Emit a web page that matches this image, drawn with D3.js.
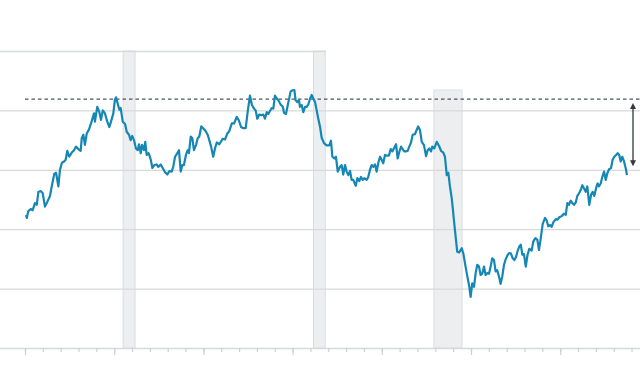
<!DOCTYPE html>
<html>
<head>
<meta charset="utf-8">
<script src="https://cdn.jsdelivr.net/npm/d3@7"></script>
<style>
  body { margin: 0; background: #fff; }
  svg { display: block; }
</style>
</head>
<body>
<svg width="640" height="375"></svg>
<script>
// monthly series (decimal years)
const dates = [
  1985.06,1985.10,1985.18,1985.32,1985.43,1985.56,1985.66,1985.75,1985.88,1985.99,
  1986.12,1986.25,1986.40,1986.53,1986.64,1986.74,1986.87,1986.96,1987.07,1987.19,
  1987.28,1987.37,1987.48,1987.62,1987.75,1987.86,1987.99,1988.12,1988.18,1988.27,
  1988.36,1988.46,1988.59,1988.70,1988.79,1988.87,1988.92,1989.05,1989.16,1989.26,
  1989.36,1989.48,1989.61,1989.73,1989.82,1989.95,1990.04,1990.10,1990.20,1990.29,
  1990.36,1990.48,1990.61,1990.70,1990.83,1990.92,1991.01,1991.11,1991.22,1991.32,
  1991.39,1991.49,1991.56,1991.67,1991.74,1991.82,1991.93,1992.05,1992.14,1992.25,
  1992.38,1992.47,1992.61,1992.72,1992.85,1992.98,1993.09,1993.22,1993.31,1993.41,
  1993.54,1993.63,1993.73,1993.82,1993.91,1994.02,1994.12,1994.19,1994.29,1994.38,
  1994.47,1994.59,1994.68,1994.77,1994.88,1994.99,1995.13,1995.24,1995.33,1995.43,
  1995.55,1995.65,1995.75,1995.89,1996.08,1996.21,1996.34,1996.45,1996.59,1996.72,
  1996.87,1996.99,1997.11,1997.24,1997.37,1997.48,1997.61,1997.72,1997.84,1997.93,
  1998.02,1998.13,1998.25,1998.36,1998.45,1998.55,1998.64,1998.73,1998.83,1998.92,
  1999.01,1999.11,1999.20,1999.33,1999.45,1999.52,1999.63,1999.73,1999.80,1999.89,
  2000.01,2000.10,2000.17,2000.26,2000.36,2000.41,2000.51,2000.60,2000.70,2000.79,
  2000.88,2000.98,2001.07,2001.16,2001.26,2001.35,2001.44,2001.54,2001.63,2001.76,
  2001.91,2002.06,2002.15,2002.23,2002.34,2002.43,2002.53,2002.66,2002.75,2002.84,
  2002.94,2003.03,2003.12,2003.22,2003.31,2003.40,2003.54,2003.63,2003.74,2003.83,
  2003.93,2004.02,2004.15,2004.24,2004.34,2004.43,2004.52,2004.62,2004.71,2004.80,
  2004.90,2004.99,2005.08,2005.18,2005.27,2005.40,2005.50,2005.59,2005.68,2005.80,
  2005.89,2005.98,2006.08,2006.17,2006.26,2006.36,2006.45,2006.54,2006.64,2006.73,
  2006.86,2006.95,2007.04,2007.14,2007.24,2007.36,2007.48,2007.57,2007.66,2007.76,
  2007.83,2007.94,2008.08,2008.21,2008.32,2008.45,2008.54,2008.64,2008.73,2008.82,
  2008.92,2008.97,2009.06,2009.14,2009.23,2009.34,2009.48,2009.57,2009.66,2009.76,
  2009.85,2009.90,2009.98,2010.07,2010.17,2010.26,2010.35,2010.45,2010.54,2010.63,
  2010.73,2010.82,2010.91,2011.01,2011.10,2011.19,2011.29,2011.38,2011.47,2011.57,
  2011.66,2011.75,2011.85,2011.94,2012.06,2012.15,2012.24,2012.34,2012.43,2012.52,
  2012.62,2012.71,2012.79,2012.88,2012.97,2013.07,2013.17,2013.27,2013.40,2013.49,
  2013.61,2013.72,2013.81,2013.92,2014.02,2014.15,2014.24,2014.33,2014.43,2014.52,
  2014.62,2014.75,2014.84,2014.95,2015.08,2015.21,2015.31,2015.40,2015.49,2015.59,
  2015.68,2015.77,2015.87,2015.96,2016.05,2016.15,2016.24,2016.33,2016.43,2016.52,
  2016.63,2016.73,2016.82,2016.91,2017.01,2017.10,2017.17,2017.27,2017.36,2017.46,
  2017.55,2017.64,2017.74,2017.85,2017.94,2018.03,2018.13,2018.22,2018.31,2018.39,
  2018.48,2018.58,2018.69,2018.74
];

const values = [
  22.4,21.9,23.0,23.4,23.2,24.4,24.1,26.3,26.4,26.1,
  23.8,24.6,25.6,27.7,29.3,29.5,27.2,30.0,31.2,31.4,
  31.7,33.2,32.2,32.9,33.3,33.9,33.5,33.2,35.3,35.9,
  34.2,36.1,36.8,37.8,38.7,39.5,38.1,40.6,39.8,38.4,
  40.0,39.5,38.1,37.2,38.1,39.5,41.8,42.2,41.1,40.1,
  40.4,38.1,37.7,36.4,35.9,35.0,35.7,35.0,33.6,33.3,
  34.3,32.8,34.2,33.3,34.7,32.5,32.8,31.7,30.3,30.8,
  30.9,30.5,30.9,30.3,29.6,29.2,29.8,29.7,30.5,32.2,
  32.8,33.3,29.7,30.8,30.8,32.5,33.3,32.8,35.6,35.3,
  33.3,34.2,35.3,35.6,37.3,37.0,36.5,35.9,35.0,33.9,
  32.2,33.6,34.6,34.3,35.2,35.1,36.1,36.5,37.8,37.8,
  38.9,38.3,37.2,37.0,37.0,39.7,42.5,40.9,40.3,40.0,
  38.6,39.3,39.2,39.3,38.6,39.7,39.4,39.9,40.4,40.3,
  42.5,42.0,41.7,41.0,40.6,39.6,39.4,40.9,41.9,43.2,
  43.4,43.4,41.7,41.4,41.7,40.6,40.9,39.7,40.6,40.6,
  41.0,42.0,42.6,42.0,41.4,40.0,38.6,37.2,35.4,34.5,
  34.1,34.1,34.9,32.2,31.9,32.2,29.7,30.5,30.8,29.2,
  30.8,29.7,29.1,29.8,28.3,28.3,27.3,28.6,28.1,28.8,
  28.3,28.6,28.3,28.8,30.0,30.8,30.5,30.9,29.7,31.1,
  32.2,31.7,31.1,32.5,32.4,32.4,33.5,33.1,33.6,34.3,
  31.9,33.0,33.9,33.5,33.1,33.1,33.2,33.9,34.6,35.9,
  36.0,36.7,37.3,36.7,34.7,34.2,32.3,33.3,33.6,33.1,
  33.9,33.6,34.7,34.0,33.2,32.9,32.2,29.1,29.5,27.2,
  25.2,23.8,21.0,18.7,16.2,16.1,16.8,15.9,14.3,12.6,
  11.2,10.4,8.6,10.9,10.3,12.6,14.0,13.7,12.3,12.5,
  13.7,12.3,12.6,12.5,13.7,15.1,14.8,12.9,13.1,12.0,
  10.8,12.0,14.0,14.9,15.7,16.0,15.9,15.1,14.8,15.3,
  16.4,17.1,17.4,15.7,15.8,13.7,15.7,16.7,16.4,17.9,
  18.5,18.2,16.5,18.7,20.9,21.9,21.5,20.5,20.7,20.4,
  21.2,21.7,21.6,22.0,22.2,22.6,22.4,24.4,24.1,24.8,
  24.4,24.1,24.5,25.6,26.0,26.6,27.4,26.9,26.3,27.2,
  24.1,25.8,26.3,25.6,26.9,27.7,27.2,27.7,28.8,29.7,
  28.3,29.4,30.1,30.3,31.7,32.2,32.5,32.8,32.5,31.4,
  32.2,31.4,30.0,29.1
];

// recession periods (start, end)
const recessionStart = [1990.50, 2001.17, 2007.92];
const recessionEnd   = [1991.17, 2001.83, 2009.50];

const gridValues = [0, 10, 20, 30, 40, 50];
const tickYears = d3.range(1985, 2020);
const majorYears = [1985, 1990, 1995, 2000, 2005, 2010, 2015];

const peakLevel = 41.9;     // dashed reference
const gapBottom = 30.6;     // arrow end

const svg = d3.select('svg');
const width = +svg.attr('width');
const height = +svg.attr('height');

const x = d3.scaleLinear()
    .domain([1985, 2020])
    .range([25, 649.4]);

const y = d3.scaleLinear()
    .domain([0, 50])
    .range([348, 51]);

//----------------------------------------- RECESSIONS -----------------------------------------//
svg.append('g')
    .selectAll('rect')
    .data(recessionStart)
    .join('rect')
    .attr('x', (d, i) => x(d))
    .attr('width', (d, i) => x(recessionEnd[i]) - x(d))
    .attr('y', y(50))
    .attr('height', y(0) - y(50))
    .attr('fill', '#eceef0')
    .attr('stroke', '#dadddf')
    .attr('stroke-width', 1);

//----------------------------------------- GRID -----------------------------------------//
const grid = svg.append('g')
    .call(d3.axisRight(y).tickValues(gridValues).tickSize(width).tickFormat(''));
grid.select('.domain').remove();
grid.selectAll('line')
    .attr('stroke', '#d7d9da')
    .attr('stroke-width', 1.3);

// white label area top right (covers grid top)
svg.append('rect')
    .attr('x', x(recessionEnd[1]) + 1)
    .attr('y', 0)
    .attr('width', width)
    .attr('height', y(peakLevel) - 9.5)
    .attr('fill', '#fff');

// recession band top edge in the label area
svg.append('line')
    .attr('x1', x(recessionStart[2]))
    .attr('x2', x(recessionEnd[2]))
    .attr('y1', y(peakLevel) - 9)
    .attr('y2', y(peakLevel) - 9)
    .attr('stroke', '#dadddf');
svg.append('rect')
    .attr('x', x(recessionStart[2]) + 0.5)
    .attr('width', x(recessionEnd[2]) - x(recessionStart[2]) - 1)
    .attr('y', y(peakLevel) - 8.5)
    .attr('height', 8)
    .attr('fill', '#eceef0');

//----------------------------------------- X AXIS TICKS -----------------------------------------//
const minorAxis = svg.append('g')
    .attr('transform', `translate(0,${y(0)})`)
    .call(d3.axisBottom(x).tickValues(tickYears).tickSize(4).tickFormat(''));
const majorAxis = svg.append('g')
    .attr('transform', `translate(0,${y(0)})`)
    .call(d3.axisBottom(x).tickValues(majorYears).tickSize(7).tickFormat(''));
[minorAxis, majorAxis].forEach(a => {
    a.select('.domain').remove();
    a.selectAll('line').attr('stroke', '#cdd0d2').attr('stroke-width', 1.2);
});

//----------------------------------------- PEAK LINE -----------------------------------------//
svg.append('line')
    .attr('x1', x(1985))
    .attr('x2', width)
    .attr('y1', y(peakLevel))
    .attr('y2', y(peakLevel))
    .attr('stroke', '#4b5659')
    .attr('stroke-width', 1.2)
    .attr('stroke-dasharray', '3.5,3');

//----------------------------------------- SERIES -----------------------------------------//
const series = dates.map((d, i) => ({date: d, value: values[i]}));

svg.append('path')
    .datum(series)
    .attr('fill', 'none')
    .attr('stroke', '#1487b4')
    .attr('stroke-width', 2.2)
    .attr('stroke-linejoin', 'round')
    .attr('d', d3.line().x(d => x(d.date)).y(d => y(d.value)));

//----------------------------------------- GAP ARROW -----------------------------------------//
const ax = 633;
const yTop = y(peakLevel) + 4;
const yBot = y(gapBottom);
svg.append('line')
    .attr('x1', ax).attr('x2', ax)
    .attr('y1', yTop + 4).attr('y2', yBot - 4)
    .attr('stroke', '#2f3a3d')
    .attr('stroke-width', 1.3);
svg.append('path')
    .attr('d', `M${ax},${yTop} L${ax - 3},${yTop + 6} L${ax + 3},${yTop + 6} Z`)
    .attr('fill', '#2f3a3d');
svg.append('path')
    .attr('d', `M${ax},${yBot} L${ax - 3},${yBot - 6} L${ax + 3},${yBot - 6} Z`)
    .attr('fill', '#2f3a3d');
</script>
</body>
</html>
